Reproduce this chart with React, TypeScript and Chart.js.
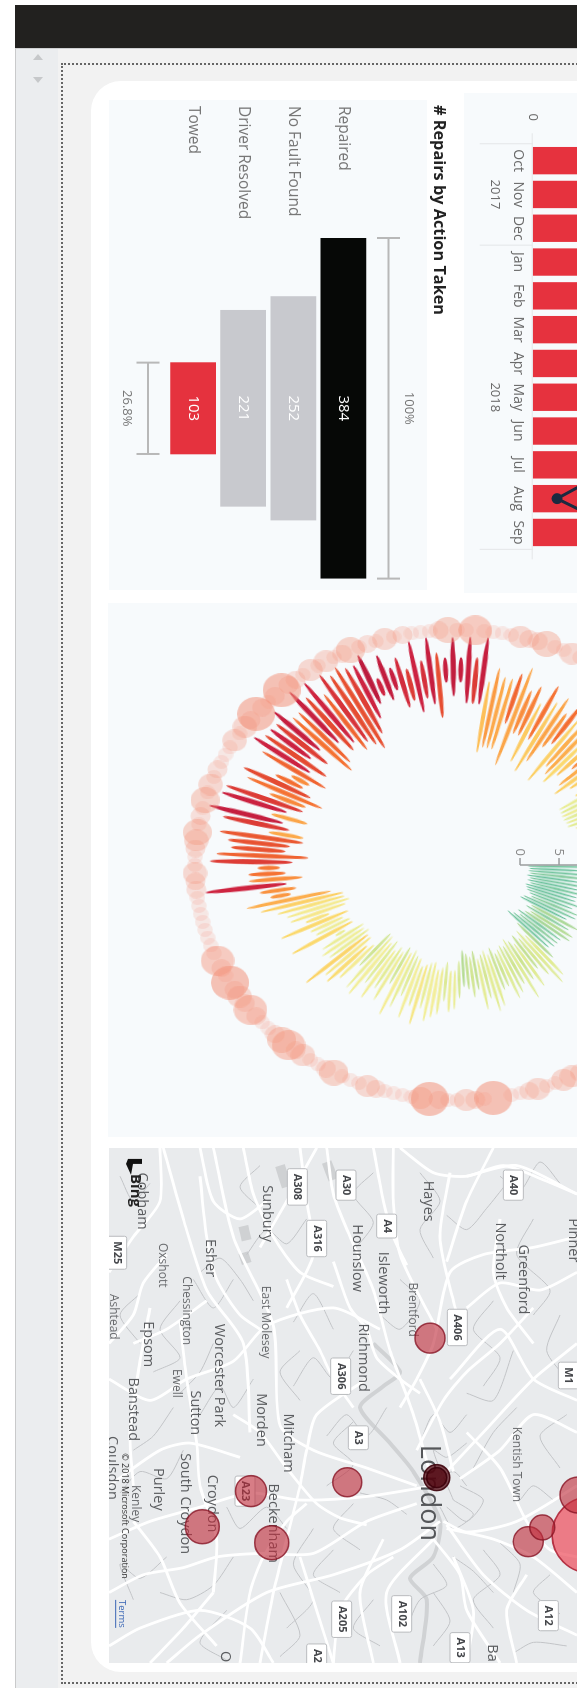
import React, { useEffect, useRef } from "react";
import { Chart, registerables } from "chart.js";
Chart.register(...registerables);

const FONT = '"Open Sans", sans-serif';

/* ---------- monthly chart ---------- */
const months = ["Oct", "Nov", "Dec", "Jan", "Feb", "Mar", "Apr", "May", "Jun", "Jul", "Aug", "Sep"];
const repairsByMonth = [78, 85, 80, 92, 84, 88, 74, 79, 83, 90, 71, 86];
const trendByMonth = [52, 48, 55, 60, 47, 58, 44, 50, 46, 39, 11, 42];
const years = [{ label: "2017", from: 0, to: 2 }, { label: "2018", from: 3, to: 11 }];
const axisZero = "0";

/* ---------- funnel ---------- */
const actions = ["Repaired", "No Fault Found", "Driver Resolved", "Towed"];
const actionCounts = [384, 252, 221, 103];
const funnelTitle = "# Repairs by Action Taken";
const funnelTop = "100%";
const funnelBottom = "26.8%";

/* ---------- radial daily chart: low and high reading of each step round the circle ---------- */
const lows = [
  1.0, 1.2, 1.1, 1.3, 1.0, 1.4, 1.2, 1.6, 1.1, 1.3,
  1.5, 2.0, 2.4, 1.5, 1.2, 3.0, 2.5, 3.4, 2.8, 2.0,
  2.6, 1.8, 1.1, 3.2, 5.2, 4.0, 5.0, 4.2, 5.3, 4.6,
  4.0, 4.9, 4.6, 5.0, 5.4, 4.4, 5.2, 4.5, 5.0, 5.5,
  4.3, 5.1, 4.6, 4.1, 5.6, 6.9, 7.0, 5.8, 6.6, 7.0,
  6.0, 6.2, 6.6, 7.0, 6.0, 5.8, 5.1, 5.7, 5.1, 6.0,
  5.6, 6.4, 5.2, 5.8, 5.0, 4.9, 7.5, 8.2, 7.0, 7.0,
  6.4, 6.8, 6.5, 9.0, 7.5, 7.6, 8.3, 7.3, 9.7, 7.2,
  6.5, 7.0, 7.0, 8.5, 13.6, 12.8, 13.9, 11.8, 13.9, 14.6,
  13.0, 11.0, 14.0, 13.5, 11.9, 12.0, 14.0, 15.0, 12.0, 15.0,
  13.1, 13.0, 11.0, 13.0, 14.5, 14.0, 12.0, 14.9, 12.9, 16.0,
  13.9, 15.9, 11.0, 12.0, 15.0, 13.0, 13.8, 12.0, 12.9, 12.0,
  11.0, 13.0, 15.0, 16.9, 17.8, 16.8, 18.0, 15.2, 16.0, 14.1,
  16.0, 15.0, 13.0, 18.0, 16.0, 18.0, 15.0, 15.0, 15.0, 8.2,
  9.0, 9.0, 9.0, 13.0, 7.0, 12.0, 12.0, 8.2, 12.0, 7.2,
  9.2, 12.0, 13.0, 7.0, 10.0, 9.1, 8.1, 10.0, 12.0, 9.2,
  8.0, 10.0, 11.0, 10.0, 7.2, 7.1, 7.0, 7.0, 7.1, 7.1,
  8.0, 8.5, 9.0, 8.0, 8.0, 9.0, 8.0, 8.5, 8.0, 9.0,
];
const highs = [
  9, 8, 9, 10, 8, 9, 8, 9, 8, 8,
  9, 8, 9, 9, 8, 10, 9, 10, 10, 9,
  9, 9, 8.6, 10, 12.7, 13.5, 11.5, 10, 12.5, 11,
  13.6, 11, 12, 12.6, 10.5, 10.8, 13, 13.6, 11.5, 13,
  10, 11, 9.8, 9.4, 11, 12.6, 13, 11.5, 13.5, 14,
  14.7, 13, 15.5, 13, 15, 12, 14, 15.5, 11, 14,
  12.5, 14.5, 12.5, 15, 14.5, 11, 14, 15.5, 15, 17.6,
  13, 13.6, 13, 10.5, 16.6, 12.6, 13, 16.8, 13, 14.8,
  15, 16, 18, 19.6, 16.3, 17.5, 24.4, 18.7, 18.7, 17.5,
  23.6, 22.8, 21, 21.5, 22.7, 16.5, 22.7, 24.8, 16.8, 23.8,
  23.6, 18, 21.6, 22.6, 18.5, 16.7, 21.7, 23.7, 22.7, 22.7,
  22.6, 24, 21.7, 21.7, 24.7, 22.7, 24.5, 21.7, 24.3, 23.5,
  24.2, 23.5, 23.4, 24.5, 20.5, 23.6, 21.4, 22.6, 20.7, 24.5,
  21.5, 24.7, 22.4, 21.6, 24.5, 21.6, 24.6, 21.7, 24.7, 18.5,
  20.6, 19.5, 19.5, 20.5, 21.7, 18.6, 19.6, 17.4, 20.6, 18.5,
  19.7, 17.7, 20, 18, 18, 19, 16, 16, 19, 19,
  17, 15, 14, 13.5, 12, 11, 13, 11, 12, 11,
  13, 14, 13, 15, 12, 14, 13, 12, 14, 12,
];
/* repairs per step round the outer ring */
const ringCounts = [
  2, 0, 1, 0, 3, 0, 1, 0, 0, 2, 0, 1, 0, 3, 0, 1, 0, 0, 2, 0, 1, 0, 3, 0, 1, 0, 2, 0, 1, 0,
  1, 2, 3, 3, 1, 1, 3, 2, 1, 1, 0, 6, 1, 2, 3, 1, 1, 2, 6, 3,
  1, 1, 1, 1, 2, 3, 1, 1, 1, 4, 2, 1, 1, 3, 2, 5, 4, 2, 1, 1,
  2, 5, 2, 3, 2, 6, 1, 2, 5, 1, 1, 1, 1, 1, 1, 1, 1, 2, 2, 3,
  1, 1, 2, 3, 4, 1, 2, 1, 4, 1, 3, 1, 2, 1, 1, 1, 3, 1, 3, 2,
  6, 2, 1, 2, 6, 2, 2, 1, 3, 1, 3, 1, 2, 4, 1, 2, 1, 3, 1, 2,
  1, 1, 1, 2, 4, 1, 1, 5, 1, 1, 1, 1, 3, 2, 2, 4, 1, 1, 3, 1, 1,
  0, 1, 0, 2, 0, 0, 1, 0, 3, 0, 1, 0, 0, 2, 0, 1, 0, 1, 0, 2, 0, 0, 1, 0, 3, 0, 1, 0, 1,
];
const radialTicks = [0, 5, 10, 15, 20, 25];

/* ---------- map (north, east) ---------- */
const majorRoads = [
  [1000, 1000, 1150, 850, 1300, 700, 1431, 600],
  [1000, 1000, 940, 800, 870, 620, 820, 450, 750, 300, 700, 180, 680, 50],
  [950, 1000, 800, 950, 640, 900, 540, 830, 520, 550, 400, 300, 340, 50],
  [1000, 1000, 800, 1030, 600, 1040, 450, 1020, 300, 1060, 150, 1100, 27, 1150],
  [1020, 1100, 900, 1180, 700, 1250, 500, 1300, 300, 1420, 200, 1498],
  [1030, 1100, 1100, 1130, 1250, 1100, 1431, 1000],
  [1040, 1110, 1150, 1250, 1280, 1350, 1431, 1420],
  [1100, 130, 1250, 100, 1431, 180],
  [1431, 300, 1300, 330, 1150, 350, 1050, 400, 1000, 600, 950, 700, 900, 780],
  [1050, 700, 1200, 560, 1300, 700, 1431, 760],
  [800, 700, 650, 800, 620, 900, 600, 1000, 560, 1150, 520, 1300, 480, 1498],
  [27, 400, 100, 300, 180, 200, 180, 50],
  [190, 50, 250, 250, 320, 450, 430, 600, 450, 850],
  [27, 700, 150, 760, 260, 700, 400, 650, 500, 550, 700, 500, 840, 560],
  [27, 1000, 180, 900, 270, 880, 420, 920],
  [880, 50, 880, 200, 900, 350, 1010, 560],
  [27, 1300, 130, 1250, 250, 1230, 350, 1200, 480, 1190, 640, 1190, 800, 1100, 950, 1050],
  [1180, 50, 1100, 200, 1040, 370],
  [1250, 1498, 1220, 1350, 1280, 1250],
  [900, 1498, 860, 1300, 1000, 1150],
  [1431, 400, 1320, 450, 1200, 430, 1100, 500],
  [600, 50, 620, 200, 640, 350, 560, 500],
  [300, 50, 340, 200, 420, 250, 500, 200],
  [27, 1450, 120, 1400, 300, 1350, 450, 1400, 520, 1498],
  [700, 1498, 720, 1350, 800, 1250, 880, 1200],
  [1100, 1498, 1120, 1350, 1060, 1200],
  [1431, 1200, 1350, 1180, 1280, 1100, 1200, 950, 1100, 850],
  [1431, 180, 1330, 140, 1210, 100, 1100, 130, 1000, 120, 900, 50],
  [820, 50, 850, 200, 880, 300, 920, 380],
  [1300, 500, 1200, 600, 1100, 680, 1030, 760, 950, 900],
  [700, 370, 750, 500, 800, 560, 830, 640, 900, 700, 960, 740],
  [560, 420, 600, 520, 660, 620, 700, 700, 760, 780],
  [300, 130, 320, 300, 350, 420, 420, 520, 480, 560],
  [430, 50, 460, 180, 520, 300, 600, 400, 700, 440],
  [100, 600, 200, 560, 320, 480],
  [150, 500, 120, 650, 90, 850, 100, 1000],
  [240, 540, 260, 700, 290, 880, 300, 1000, 350, 1150, 340, 1300],
  [400, 800, 480, 850, 560, 950, 650, 1050, 720, 1090, 800, 1110],
  [620, 1050, 560, 1100, 490, 1200, 450, 1300, 420, 1498],
  [600, 1200, 650, 1350, 700, 1498],
  [850, 1150, 780, 1300, 820, 1498],
  [1000, 1150, 1080, 1250, 1100, 1350, 1200, 1498],
  [1431, 1300, 1300, 1200, 1180, 1150, 1040, 1120],
  [1431, 850, 1300, 800, 1200, 900, 1080, 980],
  [1200, 250, 1180, 400, 1220, 500, 1300, 600],
  [1050, 120, 1020, 300, 1060, 480, 1100, 600],
  [960, 700, 1020, 820, 1060, 960],
  [340, 1300, 250, 1400, 150, 1498],
  [100, 1100, 180, 1200, 240, 1330, 350, 1450],
  [27, 600, 100, 520, 130, 430, 200, 350],
  [650, 50, 560, 200, 480, 330],
];
const minorRoads = [
  [1300, 250, 1250, 350, 1350, 450, 1300, 520], [1180, 480, 1120, 560, 1200, 640, 1150, 720],
  [1400, 800, 1320, 860, 1380, 950], [1250, 780, 1180, 850, 1120, 950],
  [1100, 800, 1050, 850, 1000, 800, 960, 880], [1080, 1000, 1150, 1040, 1100, 1100, 1040, 1060],
  [1150, 1180, 1200, 1250, 1120, 1320, 1180, 1400], [980, 1000, 1060, 960, 1100, 1000],
  [760, 620, 700, 700, 640, 640, 580, 720], [760, 820, 700, 880, 760, 940, 680, 1000],
  [600, 620, 540, 680, 600, 760], [460, 700, 400, 780, 360, 720, 300, 800],
  [240, 480, 180, 560, 240, 640, 160, 680], [120, 460, 60, 520, 120, 600],
  [400, 420, 340, 500, 280, 420], [620, 250, 560, 320, 500, 280, 440, 350],
  [820, 120, 760, 180, 820, 260, 760, 340], [960, 120, 1020, 200, 960, 280, 1000, 360],
  [250, 900, 200, 980, 120, 960, 60, 1020], [400, 1200, 340, 1280, 260, 1320, 180, 1300],
  [640, 1120, 580, 1220, 640, 1320, 560, 1400], [760, 1050, 700, 1120, 780, 1180],
  [820, 1320, 760, 1400, 840, 1450], [1350, 1250, 1300, 1300, 1380, 1360], [1000, 1300, 1050, 1380, 1000, 1450],
  [1380, 150, 1320, 90, 1260, 170, 1200, 130], [480, 100, 420, 160, 480, 220], [150, 150, 100, 200, 60, 130],
  [1100, 880, 1040, 920, 1000, 900, 1060, 1040], [1060, 1040, 1120, 1080, 1060, 1120, 1020, 1060],
  [1000, 1220, 1040, 1280, 960, 1320, 920, 1400], [1200, 1160, 1260, 1220, 1240, 1300],
  [1380, 520, 1340, 620, 1400, 700], [1220, 150, 1160, 220, 1100, 280, 1040, 240],
  [900, 420, 960, 480, 900, 560, 840, 520], [700, 560, 640, 460, 580, 540],
  [860, 780, 800, 860, 740, 800, 680, 860], [560, 1120, 500, 1060, 420, 1120, 380, 1060],
  [700, 1180, 640, 1250, 720, 1300], [380, 1350, 300, 1440, 380, 1490], [200, 1200, 120, 1260, 60, 1220, 100, 1320],
  [220, 780, 160, 860, 100, 900], [340, 600, 300, 680, 240, 740], [460, 480, 420, 420, 360, 360, 300, 400],
  [1240, 620, 1180, 760, 1100, 740], [1360, 1040, 1300, 1000, 1260, 1040], [1400, 1450, 1300, 1440, 1240, 1470],
  [1060, 1200, 1120, 1240, 1180, 1300], [920, 1080, 860, 1040, 780, 1020], [540, 1300, 600, 1420, 540, 1480],
];
const thames = [820, 600, 900, 680, 850, 720, 780, 780, 870, 880, 940, 960, 1020, 1100, 1000, 1200, 930, 1260, 980, 1320, 960, 1498];
const reservoirs = [[540, 100, 560, 160], [430, 270, 440, 310], [430, 345, 440, 375], [680, 90, 700, 140]];
const townsLarge = [{ t: "London", n: 985, e: 1020 }];
const townsMedium = [
  { t: "Greenford", n: 1270, e: 420 }, { t: "Croydon", n: 335, e: 1050 }, { t: "Beckenham", n: 520, e: 1105 },
  { t: "Northolt", n: 1200, e: 340 }, { t: "Sunbury", n: 500, e: 235 }, { t: "Hounslow", n: 770, e: 360 },
  { t: "Isleworth", n: 850, e: 430 }, { t: "Richmond", n: 790, e: 640 }, { t: "Esher", n: 330, e: 360 },
  { t: "Epsom", n: 143, e: 602 }, { t: "Worcester Park", n: 358, e: 690 }, { t: "Morden", n: 482, e: 815 },
  { t: "Mitcham", n: 565, e: 880 }, { t: "Sutton", n: 285, e: 795 }, { t: "South Croydon", n: 255, e: 1050 },
  { t: "Hayes", n: 985, e: 200 }, { t: "Banstead", n: 100, e: 785 }, { t: "Purley", n: 175, e: 1010 },
  { t: "Cobham", n: 125, e: 200 }, { t: "Pinner", n: 1420, e: 310 }, { t: "Coulsdon", n: 35, e: 950 },
  { t: "Ba", n: 1175, e: 1470 }, { t: "O", n: 375, e: 1480 },
];
const townsSmall = [
  { t: "Brentford", n: 937, e: 505 }, { t: "Oxshott", n: 188, e: 380 }, { t: "Chessington", n: 258, e: 508 },
  { t: "Ewell", n: 230, e: 712 }, { t: "East Molesey", n: 495, e: 540 }, { t: "Kenley", n: 105, e: 1050 },
  { t: "Kentish Town", n: 1250, e: 940 }, { t: "Ashtead", n: 40, e: 525 },
];
const shields = [
  { t: "A40", n: 1240, e: 155 }, { t: "A308", n: 592, e: 160 }, { t: "A30", n: 738, e: 155 }, { t: "A316", n: 650, e: 305 },
  { t: "A4", n: 860, e: 270 }, { t: "A406", n: 1072, e: 555 }, { t: "M1", n: 1405, e: 690 }, { t: "A306", n: 722, e: 692 },
  { t: "A3", n: 775, e: 865 }, { t: "A23", n: 435, e: 1015 }, { t: "A205", n: 725, e: 1375 }, { t: "A102", n: 905, e: 1360 },
  { t: "A12", n: 1345, e: 1365 }, { t: "A13", n: 1080, e: 1455 }, { t: "A2", n: 650, e: 1478 }, { t: "M25", n: 50, e: 345 },
];
const mapBubbles = [
  { n: 990, e: 585, r: 15 }, { n: 742, e: 990, r: 14.5 }, { n: 453, e: 1015, r: 15.5 }, { n: 515, e: 1160, r: 17 },
  { n: 307, e: 1115, r: 17 }, { n: 1285, e: 1157, r: 15 }, { n: 1327, e: 1117, r: 12.5 }, { n: 1434, e: 1026, r: 18 },
];
const mapLargest = [{ n: 1470, e: 1138, r: 38 }];
const mapCentre = [{ n: 1010, e: 977, r: 13 }, { n: 1010, e: 977, r: 10 }];
const mapCredit = "© 2018 Microsoft Corporation";

/* ---------- helpers ---------- */
const R0 = 8.08;
const polar = (i: number, T: number) => {
  const th = ((2 * i + 1) * Math.PI) / 180;
  return { x: (T + R0) * Math.sin(th), y: (T + R0) * Math.cos(th) };
};
const stops: [number, number[]][] = [
  [4, [98, 190, 155]], [5.5, [125, 200, 160]], [7, [190, 221, 140]], [9, [226, 236, 150]], [10.5, [243, 238, 155]],
  [12, [251, 218, 110]], [13.5, [253, 188, 85]], [15, [250, 150, 65]], [16.5, [244, 110, 50]],
  [18, [226, 70, 50]], [19.2, [205, 35, 65]], [21, [185, 25, 60]],
];
const heat = (v: number) => {
  if (v <= stops[0][0]) return `rgb(${stops[0][1]})`;
  for (let k = 1; k < stops.length; k++) {
    if (v <= stops[k][0]) {
      const f = (v - stops[k - 1][0]) / (stops[k][0] - stops[k - 1][0]);
      const c = stops[k][1].map((q, j) => Math.round(stops[k - 1][1][j] + (q - stops[k - 1][1][j]) * f));
      return `rgb(${c})`;
    }
  }
  return `rgb(${stops[stops.length - 1][1]})`;
};
const sprite = (w: number, h: number, color: string) => {
  const c = document.createElement("canvas");
  c.width = Math.max(2, Math.ceil(w));
  c.height = Math.max(2, Math.ceil(h));
  const g = c.getContext("2d")!;
  g.fillStyle = color;
  g.beginPath();
  g.ellipse(c.width / 2, c.height / 2, w / 2, h / 2, 0, 0, Math.PI * 2);
  g.fill();
  return c;
};
const text = (g: any, s: string, x: number, y: number, font: string, color: string, align = "center") => {
  g.save();
  g.font = font;
  g.fillStyle = color;
  g.textAlign = align;
  g.textBaseline = "middle";
  g.fillText(s, x, y);
  g.restore();
};
const base: any = { responsive: false, animation: false, events: [], plugins: { legend: { display: false }, tooltip: { enabled: false } } };

function Cv({ u, v, w, h, make }: any) {
  const ref = useRef<HTMLCanvasElement>(null);
  useEffect(() => {
    const ch = make(ref.current);
    return () => ch.destroy();
  }, []);
  return <canvas ref={ref} width={w} height={h} style={{ position: "absolute", left: u, top: v, width: w, height: h }} />;
}

/* ---------- charts ---------- */
const makeColumns = (el: any) =>
  new Chart(el, {
    type: "bar",
    data: {
      labels: months,
      datasets: [
        { type: "line", data: trendByMonth, borderColor: "#1a2a40", borderWidth: 3, pointRadius: 5.5, pointBackgroundColor: "#1a2a40", pointBorderWidth: 0, order: 0 } as any,
        { data: repairsByMonth, backgroundColor: "#e6323e", barThickness: 26.7, order: 1 },
      ],
    },
    options: {
      ...base,
      layout: { autoPadding: false, padding: { left: 50.75, right: 43.65 } },
      scales: {
        x: {
          grid: { display: false, drawTicks: false }, border: { display: false },
          ticks: { autoSkip: false, maxRotation: 0, padding: 6, color: "#6a6a6a", font: { family: FONT, size: 14 } },
          afterFit: (s: any) => { s.height = 68.7; },
        },
        y: { display: false, min: 0, max: 20 },
      },
    },
    plugins: [{
      id: "decor",
      afterDraw(c: any) {
        const g = c.ctx, xs = c.scales.x, base0 = c.scales.y.getPixelForValue(0);
        const step = xs.getPixelForValue(1) - xs.getPixelForValue(0);
        g.save();
        g.strokeStyle = "#e4e6e8";
        g.lineWidth = 1;
        g.beginPath();
        g.moveTo(xs.left - 10.5, base0 + 0.5);
        g.lineTo(xs.right + 10, base0 + 0.5);
        [0, 3, 12].forEach((k) => {
          const p = xs.getPixelForValue(k) - step / 2;
          g.moveTo(p, base0);
          g.lineTo(p, base0 + 53);
        });
        g.stroke();
        g.restore();
        text(g, axisZero, xs.left - 26.5, base0, `13px ${FONT}`, "#6a6a6a");
        years.forEach((y) => {
          const mid = (xs.getPixelForValue(y.from) + xs.getPixelForValue(y.to)) / 2;
          text(g, y.label, mid, base0 + 37.5, `13px ${FONT}`, "#6a6a6a");
        });
      },
    }],
  } as any);

const makeFunnel = (el: any) =>
  new Chart(el, {
    type: "bar",
    data: {
      labels: actions,
      datasets: [{
        data: actionCounts.map((v) => [-v / 2, v / 2]) as any,
        backgroundColor: ["#060806", "#c8c9ce", "#c8c9ce", "#e5323e"],
        barThickness: 45,
      }],
    },
    options: {
      ...base,
      indexAxis: "y",
      layout: { padding: { left: 6, top: 86.5, bottom: 59, right: 11.4 } },
      scales: {
        x: { display: false, min: -192, max: 192 },
        y: {
          grid: { display: false }, border: { display: false },
          ticks: { crossAlign: "far", color: "#777", font: { family: FONT, size: 15.5 } },
          afterFit: (s: any) => { s.width = 132; },
        },
      },
    },
    plugins: [{
      id: "annot",
      afterDraw(c: any) {
        const g = c.ctx, xs = c.scales.x, ys = c.scales.y;
        text(g, funnelTitle, 5, 16.5, `bold 16.3px ${FONT}`, "#222", "left");
        actionCounts.forEach((v, i) => {
          text(g, String(v), xs.getPixelForValue(0), ys.getPixelForValue(i), `15px ${FONT}`, "#fff");
        });
        const bracket = (v: number, at: number, lab: string, labAt: number) => {
          const a = xs.getPixelForValue(-v / 2), b = xs.getPixelForValue(v / 2);
          g.save();
          g.strokeStyle = "#b8b8b8";
          g.lineWidth = 2;
          g.beginPath();
          g.moveTo(a, at); g.lineTo(b, at);
          g.moveTo(a, at - 11.5); g.lineTo(a, at + 11.5);
          g.moveTo(b, at - 11.5); g.lineTo(b, at + 11.5);
          g.stroke();
          g.restore();
          text(g, lab, (a + b) / 2, labAt, `13px ${FONT}`, "#777");
        };
        const topY = ys.getPixelForValue(0), botY = ys.getPixelForValue(3);
        bracket(actionCounts[0], topY - 45, funnelTop, topY - 65);
        bracket(actionCounts[3], botY + 45, funnelBottom, botY + 66);
      },
    }],
  } as any);

const makeRadial = (el: any) => {
  const kx = 7, ky = 7.8;
  const ringData: any[] = [], ringImg: any[] = [];
  ringCounts.forEach((n, i) => {
    if (!n) return;
    const th = (2 * i * Math.PI) / 180, r = 33.6;
    ringData.push({ x: r * Math.sin(th), y: r * Math.cos(th) });
    const rad = 5 + 2 * n;
    ringImg.push(sprite(2 * rad, 2 * rad * 1.115, `rgba(243,146,122,${[0, 0.18, 0.26, 0.32, 0.38, 0.45, 0.55][n]})`));
  });
  const petals = lows.map((lo, i) => {
    const a = polar(i, lo), b = polar(i, highs[i]);
    return { x: (a.x + b.x) / 2, y: (a.y + b.y) / 2 };
  });
  const petalImg: any[] = lows.map((lo, i) => {
    const a = polar(i, lo), b = polar(i, highs[i]);
    const mean = (lo + highs[i]) / 2;
    return sprite(Math.hypot((b.x - a.x) * kx, (b.y - a.y) * ky), Math.max(2.2, 2 + (mean - 4) * 0.2), heat(mean));
  });
  const petalRot = lows.map((lo, i) => {
    const a = polar(i, lo), b = polar(i, highs[i]);
    return (Math.atan2(-(b.y - a.y) * ky, (b.x - a.x) * kx) * 180) / Math.PI;
  });
  return new Chart(el, {
    type: "scatter",
    data: {
      datasets: [
        { data: ringData, pointStyle: (c: any) => ringImg[c.dataIndex] ?? "circle", pointRadius: 6 },
        { showLine: true, data: radialTicks.map((t) => ({ x: 0, y: R0 + t })), borderColor: "#9a9c9e", borderWidth: 1.5, pointRadius: 0 },
        {
          data: petals,
          pointStyle: (c: any) => petalImg[c.dataIndex] ?? "circle",
          pointRotation: (c: any) => petalRot[c.dataIndex] ?? 0,
          pointRadius: 3,
        },
      ] as any,
    },
    options: {
      ...base,
      layout: { autoPadding: false },
      scales: {
        x: { display: false, min: -262 / kx, max: 272 / kx },
        y: { display: false, min: -349 / ky, max: 150 / ky },
      },
    },
    plugins: [{
      id: "radialAxis",
      afterDatasetsDraw(c: any) {
        const g = c.ctx, x0 = c.scales.x.getPixelForValue(0);
        radialTicks.forEach((t) => {
          const y = c.scales.y.getPixelForValue(R0 + t);
          g.save();
          g.strokeStyle = "#9a9c9e";
          g.lineWidth = 1.5;
          g.beginPath();
          g.moveTo(x0 - 7, y);
          g.lineTo(x0, y);
          g.stroke();
          g.restore();
          text(g, String(t), x0 - 9, y, `13px ${FONT}`, "#8a8a8a", "right");
        });
      },
    }],
  } as any);
};

const makeMap = (el: any) => {
  const line = (arr: number[], color: string, width: number) => ({
    type: "line", showLine: true, borderColor: color, borderWidth: width, pointRadius: 0, tension: 0.25, fill: false,
    data: arr.reduce((o: any[], _, k) => (k % 2 ? o : o.concat({ x: arr[k + 1], y: arr[k] })), []),
  });
  const bubbles = (list: any[], fill: string, edge: string) => ({
    type: "bubble",
    data: list.map((b) => ({ x: b.e, y: b.n, r: b.r })),
    backgroundColor: fill, borderColor: edge, borderWidth: 1.5,
  });
  /* datasets are painted last to first, so the bubbles come first */
  const datasets: any[] = [
    bubbles(mapCentre, "rgba(80,5,15,0.72)", "rgba(60,0,10,0.9)"),
    bubbles(mapBubbles, "rgba(190,45,60,0.62)", "rgba(135,20,36,0.8)"),
    bubbles(mapLargest, "rgba(236,75,90,0.7)", "rgba(170,25,45,0.85)"),
    ...majorRoads.map((a) => line(a, "#ffffff", 2.8)),
    ...minorRoads.map((a) => line(a, "#c2c4c7", 1)),
    line(thames, "#d0d2d4", 4),
    ...reservoirs.map((a) => line(a, "#cfd1d3", 10)),
  ];
  return new Chart(el, {
    type: "scatter",
    data: { datasets },
    options: {
      ...base,
      layout: { autoPadding: false },
      scales: { x: { type: "linear", display: false, min: 50.6, max: 1498 }, y: { type: "linear", display: false, min: 27, max: 1431 } },
    },
    plugins: [{
      id: "mapText",
      beforeDatasetDraw(c: any, args: any) {
        if (args.index !== 2) return;
        const g = c.ctx, xs = c.scales.x, ys = c.scales.y;
        const put = (list: any[], font: string, color: string) =>
          list.forEach((l) => text(g, l.t, xs.getPixelForValue(l.e), ys.getPixelForValue(l.n), font, color));
        put(townsMedium, `14.5px ${FONT}`, "#5b5d60");
        put(townsSmall, `12px ${FONT}`, "#6a6c6f");
        put(townsLarge, `27px ${FONT}`, "#55575a");
        shields.forEach((l) => {
          const x = xs.getPixelForValue(l.e), y = ys.getPixelForValue(l.n);
          g.save();
          g.font = `bold 11px ${FONT}`;
          const w = g.measureText(l.t).width + 10;
          g.fillStyle = "#fff";
          g.strokeStyle = "#b9bbbe";
          g.lineWidth = 1;
          g.beginPath();
          g.roundRect(x - w / 2, y - 10, w, 20, 2);
          g.fill();
          g.stroke();
          g.restore();
          text(g, l.t, x, y, `bold 11px ${FONT}`, "#44464a");
        });
        const bx = xs.getPixelForValue(115), by = ys.getPixelForValue(105);
        text(g, "Bing", xs.getPixelForValue(170), by, `bold 15px ${FONT}`, "#222");
        g.save();
        g.fillStyle = "#111";
        g.beginPath();
        g.moveTo(bx - 12, by - 7);
        g.lineTo(bx - 7, by - 7);
        g.lineTo(bx - 7, by + 2);
        g.lineTo(bx + 4, by + 4);
        g.lineTo(bx - 7, by + 9);
        g.lineTo(bx - 12, by + 7);
        g.closePath();
        g.fill();
        g.restore();
        text(g, mapCredit, xs.getPixelForValue(1085), ys.getPixelForValue(75), `9px ${FONT}`, "#333");
        const tx = xs.getPixelForValue(1360), ty = ys.getPixelForValue(65);
        text(g, "Terms", tx, ty, `9.5px ${FONT}`, "#3a66b5");
        g.save();
        g.strokeStyle = "#3a66b5";
        g.beginPath();
        g.moveTo(tx - 14, ty + 6);
        g.lineTo(tx + 14, ty + 6);
        g.stroke();
        g.restore();
      },
    }],
  } as any);
};

const box = (s: any) => <div style={{ position: "absolute", ...s }} />;

export default function App() {
  useEffect(() => {
    document.body.style.margin = "0";
    document.body.style.overflow = "hidden";
    document.body.style.background = "#fff";
  }, []);
  return (
    <div style={{ position: "absolute", left: 0, top: 0, width: 577, height: 1688, overflow: "hidden", background: "#fff" }}>
      {box({ left: 15, top: 5, width: 562, height: 43, background: "#22211f" })}
      {box({ left: 15, top: 48, width: 562, height: 1640, background: "#f2f2f2", borderTop: "1px solid #cfd0d1", borderLeft: "1px solid #c9cacb", boxSizing: "border-box" })}
      {box({ left: 16, top: 49, width: 42, height: 1639, background: "#ebedef" })}
      {box({ left: 33, top: 54, width: 0, height: 0, borderLeft: "5px solid transparent", borderRight: "5px solid transparent", borderBottom: "6px solid #c6c8ca" })}
      {box({ left: 33, top: 77, width: 0, height: 0, borderLeft: "5px solid transparent", borderRight: "5px solid transparent", borderTop: "6px solid #c6c8ca" })}
      {box({ left: 61, top: 63, width: 700, height: 1621, border: "2px dotted #666", boxSizing: "border-box" })}
      {box({ left: 91, top: 81, width: 600, height: 1591, background: "#fff", borderRadius: 30 })}
      {box({ left: 109, top: 100, width: 318, height: 490, background: "#f7fafc" })}
      {box({ left: 464, top: 93, width: 113, height: 500, background: "#f7fafc" })}
      {box({ left: 108, top: 603, width: 469, height: 534, background: "#f7fafc" })}
      {box({ left: 109, top: 1148, width: 468, height: 515, background: "#e9ebed" })}
      <div style={{ position: "absolute", left: 0, top: 0, width: 1688, height: 577, overflow: "hidden", transformOrigin: "0 0", transform: "translate(577px,0) rotate(90deg)", filter: "blur(0.7px)" }}>
        <Cv u={93} v={0} w={500} h={113} make={makeColumns} />
        <Cv u={100} v={122} w={490} h={346} make={makeFunnel} />
        <Cv u={603} v={-30} w={534} h={499} make={makeRadial} />
        <Cv u={1148} v={0} w={515} h={468} make={makeMap} />
      </div>
    </div>
  );
}
